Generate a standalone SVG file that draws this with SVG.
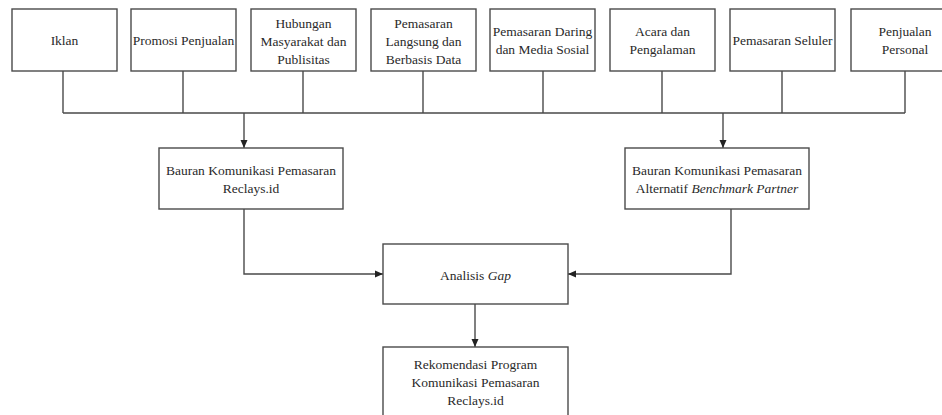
<svg xmlns="http://www.w3.org/2000/svg" width="942" height="415" viewBox="0 0 942 415">
<defs>
<marker id="ah" viewBox="0 0 8 8" refX="8" refY="4" markerWidth="8" markerHeight="8" markerUnits="userSpaceOnUse" orient="auto">
<path d="M0,0.5 L8,4 L0,7.5 Z" fill="#222"/>
</marker>
<style>
.b{fill:#fff;stroke:#4a4a4a;stroke-width:1.4}
.t{font-size:13.5px;fill:#2a2a2a;text-anchor:middle}
.i{font-style:italic}
.c{fill:none;stroke:#4a4a4a;stroke-width:1.4}
</style>
</defs>
<rect width="942" height="415" fill="#fff"/>
<g id="connectors">
<path class="c" d="M63,71 V113 M183,71 V113 M303,71 V113 M423,71 V113 M543,71 V113 M662,71 V113 M782,71 V113 M905,71 V113 M63,113 H905"/>
<path class="c" d="M244,113 V148" marker-end="url(#ah)"/>
<path class="c" d="M723,113 V148" marker-end="url(#ah)"/>
<path class="c" d="M244,209 V274 H383" marker-end="url(#ah)"/>
<path class="c" d="M731,209 V274 H568" marker-end="url(#ah)"/>
<path class="c" d="M475,304 V347" marker-end="url(#ah)"/>
</g>
<g font-family="'Liberation Serif', 'Times New Roman', Tinos, serif">
<g id="n1"><rect class="b" x="12" y="9" width="105" height="62"/><text class="t" x="64.5" y="45">Iklan</text></g>
<g id="n2"><rect class="b" x="131" y="9" width="105" height="62"/><text class="t" x="183.5" y="45">Promosi Penjualan</text></g>
<g id="n3"><rect class="b" x="251" y="9" width="105" height="62"/><text class="t" x="303.5" y="28">Hubungan</text><text class="t" x="303.5" y="46">Masyarakat dan</text><text class="t" x="303.5" y="64">Publisitas</text></g>
<g id="n4"><rect class="b" x="371" y="9" width="105" height="62"/><text class="t" x="423.5" y="28">Pemasaran</text><text class="t" x="423.5" y="46">Langsung dan</text><text class="t" x="423.5" y="64">Berbasis Data</text></g>
<g id="n5"><rect class="b" x="490" y="9" width="105" height="62"/><text class="t" x="542.5" y="36">Pemasaran Daring</text><text class="t" x="542.5" y="54">dan Media Sosial</text></g>
<g id="n6"><rect class="b" x="610" y="9" width="105" height="62"/><text class="t" x="662.5" y="36">Acara dan</text><text class="t" x="662.5" y="54">Pengalaman</text></g>
<g id="n7"><rect class="b" x="730" y="9" width="105" height="62"/><text class="t" x="782.5" y="45">Pemasaran Seluler</text></g>
<g id="n8"><rect class="b" x="851" y="9" width="108" height="62"/><text class="t" x="905" y="36">Penjualan</text><text class="t" x="905" y="54">Personal</text></g>
<g id="n9"><rect class="b" x="159" y="148" width="184" height="61"/><text class="t" x="251" y="175">Bauran Komunikasi Pemasaran</text><text class="t" x="251" y="193">Reclays.id</text></g>
<g id="n10"><rect class="b" x="625" y="148" width="184" height="61"/><text class="t" x="717" y="175">Bauran Komunikasi Pemasaran</text><text class="t" x="717" y="193">Alternatif <tspan class="i">Benchmark Partner</tspan></text></g>
<g id="n11"><rect class="b" x="383" y="244" width="185" height="60"/><text class="t" x="475.5" y="280">Analisis <tspan class="i">Gap</tspan></text></g>
<g id="n12"><rect class="b" x="383" y="347" width="185" height="75"/><text class="t" x="475.5" y="369">Rekomendasi Program</text><text class="t" x="475.5" y="387">Komunikasi Pemasaran</text><text class="t" x="475.5" y="405">Reclays.id</text></g>
</g>
</svg>
